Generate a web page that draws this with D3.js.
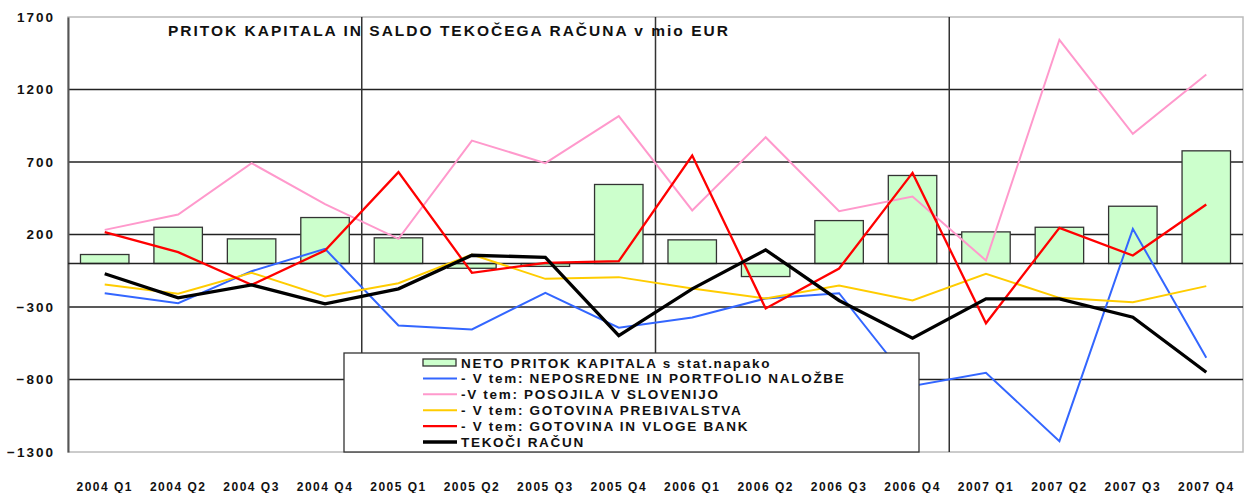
<!DOCTYPE html>
<html><head><meta charset="utf-8">
<script src="https://cdn.jsdelivr.net/npm/d3@7/dist/d3.min.js"></script>
<style>body{margin:0;background:#fff}svg{display:block}text{font-family:Arial,"Liberation Sans",sans-serif;font-weight:bold;fill:#111}</style>
</head><body><svg id="c" width="1244" height="493"></svg>
<script>
const categories = ["2004 Q1","2004 Q2","2004 Q3","2004 Q4","2005 Q1","2005 Q2","2005 Q3","2005 Q4","2006 Q1","2006 Q2","2006 Q3","2006 Q4","2007 Q1","2007 Q2","2007 Q3","2007 Q4"];
const netoPritok = [62,250,170,317,177,-33,-20,545,163,-90,296,607,218,250,395,777];
const neposredne = [-205,-274,-53,101,-428,-455,-202,-443,-372,-241,-205,-845,-754,-1225,239,-650];
const posojila = [232,338,692,410,170,848,692,1016,366,871,361,462,21,1543,894,1303];
const gotovinaPreb = [-145,-209,-64,-228,-136,62,-106,-94,-172,-241,-152,-255,-71,-237,-267,-156];
const gotovinaBank = [216,78,-147,90,630,-64,5,16,745,-310,-35,625,-412,246,55,407];
const tekociRacun = [-71,-237,-147,-278,-175,57,43,-497,-175,94,-255,-515,-244,-244,-370,-750];
const yTicks = [1700,1200,700,200,-300,-800,-1300];
const title = "PRITOK KAPITALA IN SALDO TEKOČEGA RAČUNA v mio EUR";
const legendLabels = ["NETO PRITOK KAPITALA s stat.napako","- V tem: NEPOSREDNE IN PORTFOLIO NALOŽBE","-V tem: POSOJILA V SLOVENIJO","- V tem: GOTOVINA PREBIVALSTVA","- V tem: GOTOVINA IN VLOGE BANK","TEKOČI RAČUN"];

const svg = d3.select("#c");
const L=68,R=1243,T=17,B=452;
const x = d3.scaleBand().domain(categories).range([L,R]);
const y = d3.scaleLinear().domain([-1300,1700]).range([B,T]);

// frame & gridlines
svg.append("rect").attr("x",L).attr("y",T).attr("width",R-L).attr("height",B-T).attr("fill","none").attr("stroke","#bbb").attr("stroke-width",1.5);
svg.append("g").selectAll("line").data(yTicks.filter(v=>v>-1300&&v<1700)).join("line")
  .attr("x1",L).attr("x2",R).attr("y1",d=>y(d)).attr("y2",d=>y(d)).attr("stroke","#222").attr("stroke-width",1.3);
// year separators
svg.append("g").selectAll("line").data(["2005 Q1","2006 Q1","2007 Q1"]).join("line")
  .attr("x1",d=>x(d)).attr("x2",d=>x(d)).attr("y1",T).attr("y2",B).attr("stroke","#333").attr("stroke-width",1.5);

// y axis
const yAxis = d3.axisLeft(y).tickValues(yTicks).tickFormat(d3.format("d")).tickSize(0).tickPadding(13);
const ga = svg.append("g").attr("transform",`translate(${L},0)`).call(yAxis);
ga.select(".domain").attr("stroke","#555").attr("stroke-width",2);
ga.selectAll("text").attr("font-size",13.5).attr("letter-spacing","2px").attr("fill","#111").style("font-family","Arial").style("font-weight","bold");

// x labels
const xAxis = d3.axisBottom(x).tickSize(0).tickPadding(0);
const gx = svg.append("g").attr("transform",`translate(0,${B+30})`).call(xAxis);
gx.select(".domain").remove();
gx.selectAll("text").attr("font-size",12).attr("letter-spacing","1.5px").attr("fill","#111").style("font-family","Arial").style("font-weight","bold");

// bars
const bw = x.bandwidth()*0.66;
svg.append("g").selectAll("rect").data(netoPritok).join("rect")
  .attr("x",(d,i)=>x(categories[i])+x.bandwidth()/2-bw/2)
  .attr("y",d=>y(Math.max(0,d))).attr("width",bw).attr("height",d=>Math.abs(y(d)-y(0)))
  .attr("fill","#ccffcc").attr("stroke","#333").attr("stroke-width",1.3);
// zero line
svg.append("line").attr("x1",L).attr("x2",R).attr("y1",y(0)).attr("y2",y(0)).attr("stroke","#222").attr("stroke-width",1.5);

const cx = i=>x(categories[i])+x.bandwidth()/2;
const line = d3.line().x((d,i)=>cx(i)).y(d=>y(d));
const series = [
  {data:neposredne,color:"#3366ff",w:2},
  {data:posojila,color:"#ff99cc",w:2},
  {data:gotovinaPreb,color:"#ffcc00",w:2},
  {data:gotovinaBank,color:"#ff0000",w:2.3},
  {data:tekociRacun,color:"#000",w:3.3}
];
svg.append("g").selectAll("path").data(series).join("path")
  .attr("d",d=>line(d.data)).attr("fill","none").attr("stroke",d=>d.color).attr("stroke-width",d=>d.w).attr("stroke-linejoin","miter");

// title
svg.append("text").attr("x",168).attr("y",36).attr("font-size",15.5).attr("letter-spacing","2px").text(title);

// legend
const lg = svg.append("g");
lg.append("rect").attr("x",344).attr("y",353).attr("width",575).attr("height",99).attr("fill","#fff").attr("stroke","#333").attr("stroke-width",1.3);
const rowY = i=>362.5+i*15.9;
lg.append("rect").attr("x",423).attr("y",rowY(0)-3.5).attr("width",33).attr("height",7).attr("fill","#ccffcc").attr("stroke","#333").attr("stroke-width",1.3);
lg.selectAll("line.s").data(series).join("line").attr("class","s")
  .attr("x1",423).attr("x2",457).attr("y1",(d,i)=>rowY(i+1)).attr("y2",(d,i)=>rowY(i+1))
  .attr("stroke",d=>d.color).attr("stroke-width",d=>d.w);
lg.selectAll("text").data(legendLabels).join("text")
  .attr("x",461).attr("y",(d,i)=>rowY(i)+5).attr("font-size",13.5).attr("letter-spacing","1.7px").text(d=>d);
</script></body></html>
